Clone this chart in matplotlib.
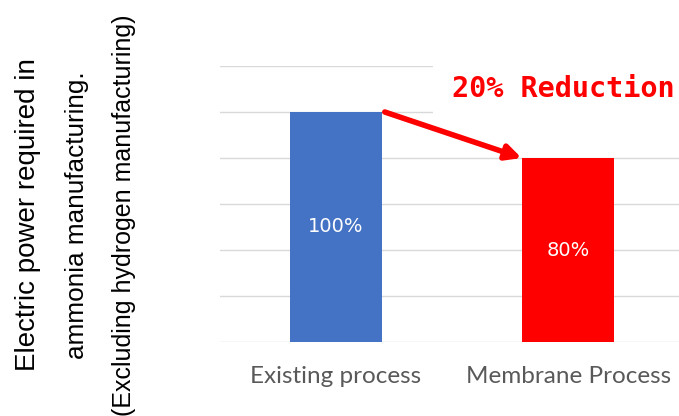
import matplotlib
matplotlib.use("Agg")
import matplotlib.pyplot as plt

# data
categories = ['Existing process', 'Membrane Process']
values = [100, 80]
bar_labels = ['100%', '80%']
bar_colors = ['#4472C4', '#FF0000']
ylabel_lines = ['Electric power required in', 'ammonia manufacturing.', '(Excluding hydrogen manufacturing)']
note = '20% Reduction'

fig = plt.figure(figsize=(6.79, 4.16), dpi=100)
ax = fig.add_axes([220 / 679, 74 / 416, 1 - 220 / 679, 276 / 416])

x = range(len(categories))
bars = ax.bar(x, values, width=0.4, color=bar_colors, zorder=3)
ax.bar_label(bars, labels=bar_labels, label_type='center', color='white',
             fontsize=14, family='DejaVu Sans')

ax.set_xlim(-0.5, 1.478)
ax.set_ylim(0, 120)
ax.set_yticks(range(0, 121, 20))
ax.yaxis.grid(True, color='#D9D9D9', linewidth=1.0, zorder=0)
ax.tick_params(axis='y', left=False, labelleft=False)
ax.tick_params(axis='x', bottom=False, pad=14)
ax.set_xticks(list(x))
ax.set_xticklabels(categories, fontsize=17.5, color='#595959', family='Lato')
for s in ax.spines.values():
    s.set_visible(False)

# arrow from first bar to second
ax.annotate('', xy=(1 - 0.2, values[1]), xytext=(0.21, values[0]),
            arrowprops=dict(arrowstyle='-|>,head_width=0.45,head_length=0.9',
                            color='#FF0000', lw=4, shrinkA=0, shrinkB=0),
            zorder=5)

fig.text(452 / 679, 1 - 89 / 416, note, color='#FF0000', fontsize=20.5,
         family='DejaVu Sans Mono', weight='bold', va='center', ha='left',
         bbox=dict(facecolor='white', edgecolor='none', pad=14))

# y label, three lines
fig.text(28 / 679, 1 - 215 / 416, ylabel_lines[0], rotation=90, fontsize=20,
         family='Liberation Sans', ha='center', va='center')
fig.text(77 / 679, 1 - 215 / 416, ylabel_lines[1], rotation=90, fontsize=18.8,
         family='Liberation Sans', ha='center', va='center')
fig.text(124 / 679, 1 - 215 / 416, ylabel_lines[2], rotation=90, fontsize=18,
         family='Liberation Sans', ha='center', va='center')

plt.savefig('out.png', dpi=100)
